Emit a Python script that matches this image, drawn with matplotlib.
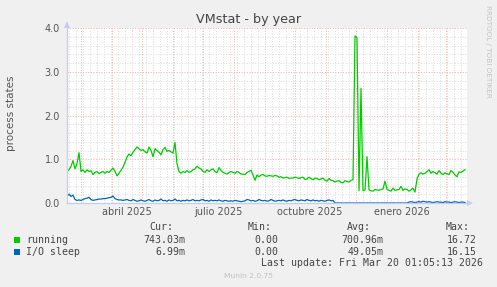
import numpy as np
import pandas as pd
import matplotlib
matplotlib.use('Agg')
import matplotlib.pyplot as plt
import matplotlib.dates as mdates
import matplotlib.transforms as mtrans
from matplotlib.patches import Rectangle, Polygon

# ---------------- data (one sample every 2 days from 2025-02-15) ----------------
start_date = '2025-02-15'
end_date = '2026-03-22'
running = [
    0.72, 0.76, 0.84, 0.97, 0.78, 0.90, 1.15, 0.72, 0.76, 0.70,
    0.76, 0.72, 0.74, 0.65, 0.70, 0.72, 0.67, 0.70, 0.72, 0.68,
    0.72, 0.70, 0.75, 0.80, 0.72, 0.62, 0.68, 0.75, 0.82, 0.93,
    1.05, 1.12, 1.08, 1.16, 1.22, 1.28, 1.24, 1.20, 1.22, 1.17,
    1.14, 1.28, 1.20, 1.06, 1.24, 1.20, 1.16, 1.10, 1.22, 1.27,
    1.18, 1.20, 1.17, 1.14, 1.38, 0.90, 0.72, 0.68, 0.72, 0.70,
    0.74, 0.70, 0.72, 0.76, 0.78, 0.84, 0.80, 0.78, 0.72, 0.70,
    0.76, 0.72, 0.76, 0.78, 0.72, 0.69, 0.81, 0.74, 0.70, 0.68,
    0.66, 0.70, 0.72, 0.70, 0.68, 0.72, 0.70, 0.66, 0.66, 0.65,
    0.70, 0.72, 0.75, 0.64, 0.52, 0.64, 0.60, 0.64, 0.65, 0.62,
    0.61, 0.63, 0.62, 0.61, 0.63, 0.62, 0.59, 0.60, 0.57, 0.58,
    0.59, 0.56, 0.57, 0.57, 0.59, 0.58, 0.56, 0.58, 0.59, 0.54,
    0.55, 0.59, 0.56, 0.53, 0.57, 0.56, 0.53, 0.55, 0.57, 0.52,
    0.50, 0.56, 0.52, 0.51, 0.48, 0.50, 0.51, 0.47, 0.46, 0.51,
    0.49, 0.48, 0.52, 0.53, 3.82, 3.78, 0.28, 2.62, 0.28, 0.30,
    1.06, 0.30, 0.28, 0.27, 0.31, 0.30, 0.29, 0.31, 0.32, 0.50,
    0.31, 0.29, 0.27, 0.34, 0.29, 0.30, 0.31, 0.38, 0.29, 0.32,
    0.31, 0.27, 0.30, 0.34, 0.25, 0.55, 0.66, 0.69, 0.66, 0.68,
    0.72, 0.76, 0.68, 0.72, 0.69, 0.66, 0.74, 0.68, 0.65, 0.69,
    0.67, 0.65, 0.74, 0.70, 0.64, 0.60, 0.71, 0.70, 0.73, 0.76,
]
io_sleep = [
    0.15, 0.20, 0.15, 0.18, 0.08, 0.06, 0.07, 0.06, 0.08, 0.10,
    0.11, 0.13, 0.08, 0.06, 0.07, 0.08, 0.09, 0.09, 0.10, 0.10,
    0.11, 0.12, 0.13, 0.16, 0.10, 0.08, 0.07, 0.07, 0.06, 0.07,
    0.08, 0.06, 0.05, 0.08, 0.06, 0.04, 0.05, 0.07, 0.05, 0.04,
    0.06, 0.08, 0.05, 0.04, 0.07, 0.05, 0.06, 0.09, 0.05, 0.06,
    0.04, 0.07, 0.05, 0.06, 0.09, 0.05, 0.06, 0.04, 0.06, 0.05,
    0.07, 0.05, 0.06, 0.08, 0.05, 0.06, 0.05, 0.07, 0.08, 0.05,
    0.06, 0.04, 0.07, 0.05, 0.06, 0.05, 0.07, 0.05, 0.04, 0.06,
    0.05, 0.04, 0.05, 0.04, 0.06, 0.05, 0.04, 0.03, 0.04, 0.05,
    0.08, 0.07, 0.05, 0.06, 0.04, 0.05, 0.08, 0.06, 0.05, 0.06,
    0.04, 0.05, 0.08, 0.06, 0.04, 0.05, 0.06, 0.05, 0.07, 0.05,
    0.04, 0.06, 0.05, 0.07, 0.08, 0.06, 0.05, 0.07, 0.06, 0.05,
    0.08, 0.06, 0.05, 0.07, 0.05, 0.06, 0.04, 0.06, 0.05, 0.04,
    0.06, 0.07, 0.05, 0.06, 0.00, 0.00, 0.00, 0.00, 0.00, 0.00,
    0.00, 0.00, 0.00, 0.00, 0.00, 0.00, 0.00, 0.00, 0.00, 0.00,
    0.00, 0.00, 0.00, 0.00, 0.00, 0.00, 0.00, 0.00, 0.00, 0.00,
    0.00, 0.00, 0.00, 0.00, 0.00, 0.00, 0.00, 0.00, 0.00, 0.00,
    0.00, 0.02, 0.03, 0.02, 0.01, 0.02, 0.03, 0.02, 0.04, 0.03,
    0.02, 0.03, 0.02, 0.01, 0.02, 0.03, 0.02, 0.02, 0.01, 0.03,
    0.02, 0.02, 0.01, 0.02, 0.03, 0.02, 0.01, 0.02, 0.02, 0.01,
]
month_labels = ['abril 2025', 'julio 2025', 'octubre 2025', 'enero 2026']
month_label_dates = ['2025-04-16', '2025-07-16', '2025-10-16', '2026-01-16']
yticks = [0, 1, 2, 3, 4]
ytick_labels = ['0.0', '1.0', '2.0', '3.0', '4.0']
series_names = ['running', 'I/O sleep']
series_colors = ['#00CC00', '#0066B3']
cur_vals = ['743.03m', '6.99m']
min_vals = ['0.00', '0.00']
avg_vals = ['700.96m', '49.05m']
max_vals = ['16.72', '16.15']
title = 'VMstat - by year'
ylabel = 'process states'
last_update = 'Last update: Fri Mar 20 01:05:13 2026'
footer = 'Munin 2.0.75'
watermark = 'RRDTOOL / TOBI OETIKER'

# ---------------- figure ----------------
W, H = 497, 287
BG = '#F0F0F0'
fig = plt.figure(figsize=(W / 100, H / 100), dpi=100, facecolor=BG)

def fx(px):
    return px / W

def fy(py):
    return 1 - py / H

ax = fig.add_axes([fx(67), fy(203), 400 / W, 175 / H])
ax.set_facecolor('white')

dates = pd.date_range(start_date, periods=len(running), freq='2D')
ax.plot(dates, running, color=series_colors[0], lw=0.9, zorder=3)
ax.plot(dates[:len(io_sleep)], io_sleep, color=series_colors[1], lw=0.9, zorder=3)

ax.set_xlim(pd.Timestamp(start_date), pd.Timestamp(end_date))
ax.set_ylim(0, 4)

ax.xaxis.set_major_locator(mdates.MonthLocator())
ax.xaxis.set_minor_locator(mdates.WeekdayLocator(byweekday=mdates.MO))
ax.set_xticklabels([])
ax.set_yticks(yticks)
ax.set_yticklabels(ytick_labels)
ax.yaxis.set_minor_locator(matplotlib.ticker.MultipleLocator(0.2))
ax.tick_params(which='both', length=0)
ax.tick_params(axis='y', labelsize=7, labelcolor='#555555', pad=5)

ax.grid(which='minor', color='#dcdcdc', linestyle=(0, (1, 1.6)), lw=0.72, zorder=1)
ax.grid(which='major', color='#eeb4b4', linestyle=(0, (1, 1.6)), lw=0.72, zorder=1)
ax.set_axisbelow(True)

for s in ['top', 'right']:
    ax.spines[s].set_visible(False)
axis_col = '#c4ccf4'
for s in ['left', 'bottom']:
    ax.spines[s].set_color(axis_col)
    ax.spines[s].set_linewidth(0.9)
    ax.spines[s].set_zorder(4)

# axis arrows
fig.add_artist(Polygon([(fx(64), fy(28)), (fx(70), fy(28)), (fx(67), fy(21))],
                       closed=True, transform=fig.transFigure, color=axis_col, lw=0))
fig.add_artist(Polygon([(fx(467), fy(200)), (fx(467), fy(206)), (fx(473), fy(203))],
                       closed=True, transform=fig.transFigure, color=axis_col, lw=0))

# month labels
lab_tr = mtrans.blended_transform_factory(ax.transData, fig.transFigure)
for lab, d in zip(month_labels, month_label_dates):
    ax.text(pd.Timestamp(d), fy(212), lab, transform=lab_tr,
            ha='center', va='center', fontsize=7, color='#555555')

# title, labels
fig.text(fx(249), fy(19), title, ha='center', va='center', fontsize=9.2, color='#444444')
fig.text(fx(11), fy(113), ylabel, ha='center', va='center', rotation=90,
         fontsize=7.5, color='#555555')
fig.text(fx(488), fy(5), watermark, ha='center', va='top', rotation=270,
         fontsize=5.2, color='#c4c4c4')

# legend
mono = 'DejaVu Sans Mono'
fs = 7.1
tc = '#444444'
hy = 227.5
for lab, xr in zip(['Cur:', 'Min:', 'Avg:', 'Max:'], [173, 272, 371, 470]):
    fig.text(fx(xr), fy(hy), lab, ha='right', va='center', family=mono, fontsize=fs, color=tc)
rows_y = [240, 251.7]
for i in range(2):
    y = rows_y[i]
    fig.add_artist(Rectangle((fx(14), fy(y + 3)), 6 / W, 6 / H, transform=fig.transFigure,
                             color=series_colors[i], lw=0))
    fig.text(fx(26.5), fy(y), series_names[i], ha='left', va='center', family=mono,
             fontsize=fs, color=tc)
    for val, xr in zip([cur_vals[i], min_vals[i], avg_vals[i], max_vals[i]],
                       [185, 278.5, 383.5, 477]):
        fig.text(fx(xr), fy(y), val, ha='right', va='center', family=mono,
                 fontsize=fs, color=tc)
fig.text(fx(483), fy(263.3), last_update, ha='right', va='center', family=mono,
         fontsize=fs, color=tc)
fig.text(fx(248), fy(276), footer, ha='center', va='center', fontsize=5.4, color='#c0c0c0')

fig.savefig('out.png', dpi=100, facecolor=BG)
